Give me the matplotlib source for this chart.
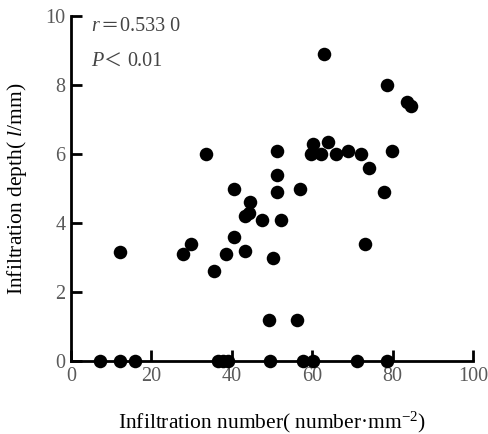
import matplotlib
matplotlib.use("Agg")
import matplotlib.pyplot as plt

# values
zero_x = [7.2, 12.2, 15.9, 36.6, 37.8, 39.1, 49.5, 57.8, 60.3, 71.2, 78.7]
pts_x = [12.2, 27.8, 29.8, 33.6, 35.6, 38.6, 40.6, 40.6, 43.3, 43.3, 44.3, 44.5,
         47.4, 49.3, 50.2, 51.3, 51.3, 51.3, 52.2, 56.2, 57.0, 60.2, 59.8, 62.2,
         63.0, 64.0, 66.0, 69.0, 72.0, 73.0, 74.0, 77.8, 78.7, 79.8, 83.5, 84.5]
pts_y = [3.15, 3.1, 3.4, 6.0, 2.6, 3.1, 3.6, 5.0, 4.2, 3.2, 4.3, 4.6,
         4.1, 1.2, 3.0, 6.1, 5.4, 4.9, 4.1, 1.2, 5.0, 6.3, 6.0, 6.0,
         8.9, 6.35, 6.0, 6.1, 6.0, 3.4, 5.6, 4.9, 8.0, 6.1, 7.5, 7.4]
x_ticks = [0, 20, 40, 60, 80, 100]
y_ticks = [0, 2, 4, 6, 8, 10]

plt.rcParams["font.family"] = ["Liberation Serif", "Noto Sans CJK SC"]
plt.rcParams["mathtext.fontset"] = "custom"
plt.rcParams["mathtext.rm"] = "Liberation Serif"
plt.rcParams["mathtext.it"] = "Liberation Serif:italic"

fig = plt.figure(figsize=(4.88, 4.34), dpi=100)
ax = fig.add_axes([0.1455, 0.168, 0.824, 0.795])

xs = zero_x + pts_x
ys = [0] * len(zero_x) + pts_y
ax.scatter(xs, ys, s=95, color="black", zorder=5, clip_on=False, linewidths=0)

ax.set_xlim(0, 100)
ax.set_ylim(0, 10)
ax.set_xticks(x_ticks)
ax.set_yticks(y_ticks)
for s in ["top", "right"]:
    ax.spines[s].set_visible(False)
for s in ["left", "bottom"]:
    ax.spines[s].set_linewidth(2)
ax.tick_params(direction="in", length=8, width=2, labelsize=14.5,
               labelcolor="#5a5a5a", pad=4)

ax.set_xlabel(r"Infiltration number( number·mm$^{-2}$)", fontsize=15.5)
ax.set_ylabel(r"Infiltration depth( $l$/mm)", fontsize=15.5)
ax.xaxis.set_label_coords(0.5, -0.14)
ax.yaxis.set_label_coords(-0.105, 0.5)

# r = 0.533 0 / P < 0.01, pieced together so the wide signs can come from the CJK font
txt = dict(transform=ax.transAxes, fontsize=14.5, color="#444444", va="center")
sign = dict(transform=ax.transAxes, fontsize=13, color="#444444", va="center", ha="center")
ax.text(0.05, 0.971, "r", style="italic", **txt)
ax.text(0.0945, 0.971, "＝", **sign)
ax.text(0.122, 0.971, "0.533 0", **txt)
ax.text(0.05, 0.867, "P", style="italic", **txt)
ax.text(0.103, 0.867, "＜", **sign)
ax.text(0.141, 0.867, "0.01", **txt)

fig.savefig("out.png", dpi=100)
